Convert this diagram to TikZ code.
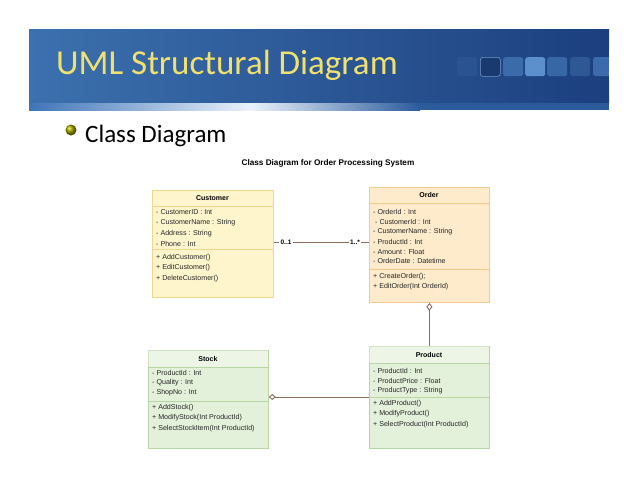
\documentclass[tikz,border=0pt]{standalone}
\usepackage{fontspec}
\setmainfont{Liberation Sans}
\newfontfamily\titlefont{Carlito}
\usetikzlibrary{arrows.meta}
\definecolor{banL}{HTML}{3C70AE}
\definecolor{banR}{HTML}{1C3F7E}
\definecolor{stripL}{HTML}{3E74B6}
\definecolor{stripM}{HTML}{EAF2FB}
\definecolor{stripR}{HTML}{2C5B9C}
\definecolor{titleY}{HTML}{F2E06E}
\definecolor{yelF}{HTML}{FFF5CD}
\definecolor{yelD}{HTML}{F3D68E}
\definecolor{orgF}{HTML}{FDEBCB}
\definecolor{orgD}{HTML}{F1CB8E}
\definecolor{grnF}{HTML}{E3F0DA}
\definecolor{grnD}{HTML}{B7D6A3}
\definecolor{conn}{HTML}{8E6B5F}
\definecolor{sqA}{HTML}{2D5894}
\definecolor{sqB}{HTML}{3B6BAA}
\definecolor{sqC}{HTML}{5B90CD}
\tikzset{
  x=1pt, y=-1pt,
  ybox/.style={draw=yelD, fill=yelF, line width=0.8pt, anchor=north west, inner sep=0},
  obox/.style={draw=orgD, fill=orgF, line width=0.8pt, anchor=north west, inner sep=0},
  gbox/.style={draw=grnD, fill=grnF, line width=0.8pt, anchor=north west, inner sep=0},
  hdr/.style={font=\bfseries\fontsize{7}{7}\selectfont, inner sep=0},
  attr/.style={anchor=west, font=\fontsize{7.1}{7}\selectfont, inner sep=0, text=black!85},
  mult/.style={font=\bfseries\fontsize{6.5}{7}\selectfont, fill=white, inner sep=1.5pt},
  assoc/.style={draw=conn, line width=0.9pt},
  sq/.style={rounded corners=2.5pt, minimum width=20, minimum height=19, inner sep=0, anchor=north west},
}
\begin{document}
\begin{tikzpicture}
\useasboundingbox (0,0) rectangle (638,493);
\fill[white] (0,0) rectangle (638,493);
% banner
\shade[left color=banL, right color=banR] (29,29) rectangle (609,103);
\shade[left color=stripL, right color=stripM] (29,103) rectangle (250,110);
\shade[left color=stripM, right color=stripR] (250,103) rectangle (420,110);
\fill[stripR] (420,103) rectangle (609,110);
\node[sq, fill=sqA!85!banR] (s1) at (457,57) {};
\node[sq, fill=banR!90!black, draw=sqB!70!white, line width=0.6pt] (s2) at (480,57) {};
\node[sq, fill=sqB] (s3) at (503,57) {};
\node[sq, fill=sqC] (s4) at (525,57) {};
\node[sq, fill=sqB!90!banR] (s5) at (547,57) {};
\node[sq, fill=sqA] (s6) at (570,57) {};
\fill[sqB, rounded corners=2.5pt] (593,57) rectangle (612,76);
\fill[white] (609,50) rectangle (615,80);
\node[anchor=base west, text=titleY, font=\titlefont\fontsize{35}{35}\selectfont, inner sep=0] (title) at (56,74) {UML Structural Diagram};
% bullet
\shade[ball color=olive!80!yellow] (71,130) circle (5.5);
\node[anchor=base west, font=\titlefont\fontsize{25}{25}\selectfont, inner sep=0] (sub) at (85,142) {Class Diagram};
\node[font=\bfseries\fontsize{8.2}{9}\selectfont, inner sep=0] (dtitle) at (328,163) {Class Diagram for Order Processing System};
% Customer
\node[ybox, minimum width=121, minimum height=107] (cust) at (152,190) {};
\draw[yelD, line width=0.8pt] (152,206) -- (273,206) (152,249) -- (273,249);
\node[hdr] (custh) at (212.5,198) {Customer};
\node[attr] (c1) at (156,212.5) {- CustomerID : Int};
\node[attr] (c2) at (156,223) {- CustomerName : String};
\node[attr] (c3) at (156,233.5) {- Address : String};
\node[attr] (c4) at (156,244) {- Phone : Int};
\node[attr] (c5) at (156,257.5) {+ AddCustomer()};
\node[attr] (c6) at (156,268) {+ EditCustomer()};
\node[attr] (c7) at (156,278.5) {+ DeleteCustomer()};
% Order
\node[obox, minimum width=120, minimum height=115] (order) at (369,187) {};
\draw[orgD, line width=0.8pt] (369,203) -- (489,203) (369,269) -- (489,269);
\node[hdr] (orderh) at (429,195) {Order};
\node[attr] (o1) at (373,212) {- OrderId : Int};
\node[attr] (o2) at (375,221.5) {- CustomerId : Int};
\node[attr] (o3) at (373,231.5) {- CustomerName : String};
\node[attr] (o4) at (373,241.5) {- ProductId : Int};
\node[attr] (o5) at (373,251.5) {- Amount : Float};
\node[attr] (o6) at (373,261) {- OrderDate : Datetime};
\node[attr] (o7) at (373,277) {+ CreateOrder();};
\node[attr] (o8) at (373,287) {+ EditOrder(Int OrderId)};
% Stock
\node[gbox, minimum width=120, minimum height=98] (stock) at (148,350) {};
\fill[white, opacity=0.35] (148.4,350.4) rectangle (267.6,366.6);
\draw[grnD, line width=0.8pt] (148,367) -- (268,367) (148,401) -- (268,401);
\node[hdr] (stockh) at (208,358.5) {Stock};
\node[attr] (s1t) at (152,373) {- ProductId : Int};
\node[attr] (s2t) at (152,382.5) {- Quality : Int};
\node[attr] (s3t) at (152,393) {- ShopNo : Int};
\node[attr] (s4t) at (152,408) {+ AddStock()};
\node[attr] (s5t) at (152,418) {+ ModifyStock(Int ProductId)};
\node[attr] (s6t) at (152,428.5) {+ SelectStockItem(Int ProductId)};
% Product
\node[gbox, minimum width=120, minimum height=102] (prod) at (369,346) {};
\fill[white, opacity=0.35] (369.4,346.4) rectangle (488.6,362.6);
\draw[grnD, line width=0.8pt] (369,363) -- (489,363) (369,397) -- (489,397);
\node[hdr] (prodh) at (429,354.5) {Product};
\node[attr] (p1) at (373,371) {- ProductId : Int};
\node[attr] (p2) at (373,380.5) {- ProductPrice : Float};
\node[attr] (p3) at (373,390.5) {- ProductType : String};
\node[attr] (p4) at (373,404) {+ AddProduct()};
\node[attr] (p5) at (373,414) {+ ModifyProduct()};
\node[attr] (p6) at (373,425) {+ SelectProduct(Int ProductId)};
% connectors
\draw[assoc] (cust.east |- 0,242) -- (order.west |- 0,242);
\node[mult] (m1) at (286,242) {0..1};
\node[mult] (m2) at (355,242) {1..*};
\draw[assoc, {Diamond[open, length=8pt, width=6pt, fill=white]}-] (order.south) -- (prod.north);
\draw[assoc, {Diamond[open, length=7pt, width=6pt, fill=white]}-] (stock.east |- 0,397) -- (prod.west |- 0,397);
\end{tikzpicture}
\end{document}
